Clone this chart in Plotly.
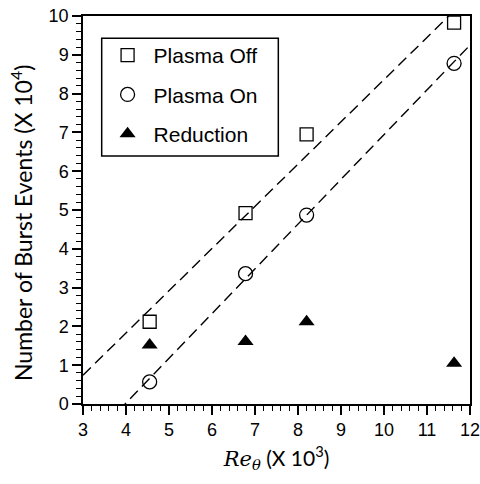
import numpy as np
import plotly.graph_objects as go

# Momentum-thickness Reynolds number (x 10^3)
re_theta = [4.55, 6.78, 8.2, 11.63]

# Number of burst events (x 10^4)
plasma_off = [2.12, 4.92, 6.95, 9.83]
plasma_on = [0.57, 3.36, 4.87, 8.78]
reduction = [1.52, 1.61, 2.12, 1.05]

x_ticks = list(range(3, 13))
y_ticks = list(range(0, 11))

AX_FONT = "Liberation Sans, Arial, sans-serif"
TITLE_FONT = "Lato, Carlito, Calibri, sans-serif"

fig = go.Figure()

# Least-squares trend lines for the two plasma conditions
x_line = np.array([x_ticks[0], x_ticks[-1]], dtype=float)
for series in (plasma_off, plasma_on):
    slope, icpt = np.polyfit(re_theta, series, 1)
    fig.add_trace(go.Scatter(
        x=x_line, y=slope * x_line + icpt, mode="lines",
        line=dict(color="black", width=1.4, dash="11px,6px"),
        showlegend=False, hoverinfo="skip",
    ))

fig.add_trace(go.Scatter(
    x=re_theta, y=plasma_off, mode="markers", name="Plasma Off",
    legendgroup="off",
    marker=dict(symbol="square-open", size=13, color="black",
                line=dict(color="black", width=1.3)),
))
fig.add_trace(go.Scatter(
    x=re_theta, y=plasma_on, mode="markers", name="Plasma On",
    legendgroup="on",
    marker=dict(symbol="circle-open", size=14, color="black",
                line=dict(color="black", width=1.3)),
))
fig.add_trace(go.Scatter(
    x=re_theta, y=reduction, mode="markers", name="Reduction",
    legendgroup="red",
    marker=dict(symbol="triangle-up", size=14, color="black",
                line=dict(color="black", width=0)),
))

axis_common = dict(
    showgrid=False, zeroline=False, automargin=False,
    showline=True, linecolor="black", linewidth=1.5, mirror=True,
    ticks="outside", ticklen=9, tickwidth=1.5, tickcolor="black",
    tickfont=dict(family=AX_FONT, size=18, color="black"),
    ticklabeloverflow="allow",
    minor=dict(ticks="outside", ticklen=5, tickwidth=1, tickcolor="black", dtick=0.2),
    dtick=1,
)

fig.update_layout(
    width=480, height=484,
    margin=dict(l=83, r=10, t=16, b=80, pad=0, autoexpand=False),
    paper_bgcolor="white", plot_bgcolor="white",
    xaxis=dict(
        range=[3, 12], tickvals=x_ticks, **axis_common,
        title=dict(
            text="<span style='font-family:DejaVu Serif'><i>Re</i><sub><i>θ</i></sub></span> (X 10<sup>3</sup>)",
            font=dict(family=TITLE_FONT, size=21, color="black"),
            standoff=12,
        ),
    ),
    yaxis=dict(range=[0, 10], tickvals=y_ticks, **axis_common),
    legend=dict(
        x=0.048, y=0.951, xanchor="left", yanchor="top",
        bgcolor="rgba(0,0,0,0)", borderwidth=0,
        font=dict(family=AX_FONT, size=21, color="black"),
        tracegroupgap=9, itemwidth=42,
    ),
    # frame around the legend entries
    shapes=[dict(
        type="rect", xref="paper", yref="paper",
        x0=0.0483, x1=0.5047, y0=0.6392, y1=0.9425,
        line=dict(color="black", width=1.5), layer="above",
    )],
    annotations=[dict(
        text="Number of Burst Events (X 10<sup>4</sup>)",
        xref="paper", yref="paper", x=-0.1576, y=0.4665,
        xanchor="center", yanchor="middle", textangle=-90,
        showarrow=False,
        font=dict(family=TITLE_FONT, size=23, color="black"),
    )],
)

fig.write_html("out.html")
